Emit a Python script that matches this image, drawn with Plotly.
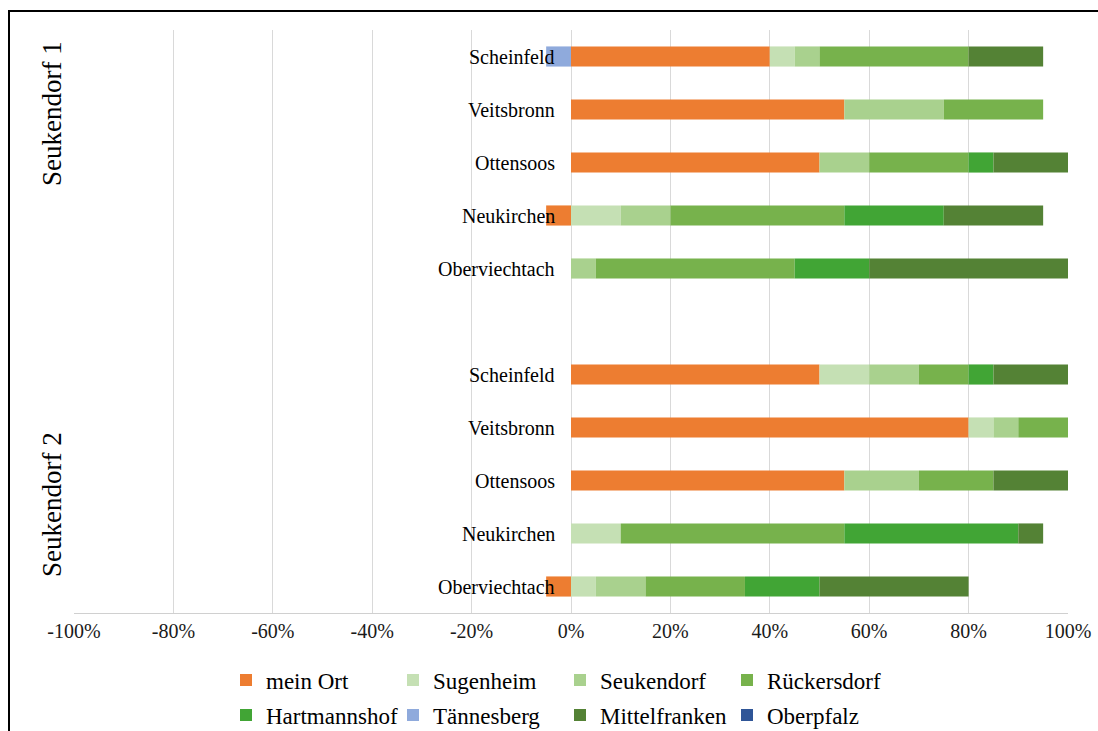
import plotly.graph_objects as go

# ---- data ----
groups = ["Seukendorf 1", "Seukendorf 2"]
places = ["Scheinfeld", "Veitsbronn", "Ottensoos", "Neukirchen", "Oberviechtach"]
series_names = ["mein Ort", "Sugenheim", "Seukendorf", "Rückersdorf",
                "Hartmannshof", "Tännesberg", "Mittelfranken", "Oberpfalz"]
colors = ["#ED7D31", "#C5E0B4", "#A9D18E", "#77B24C",
          "#41A535", "#8FAADC", "#548235", "#2F5597"]

# values in percent, order: Seukendorf 1 (5 places), Seukendorf 2 (5 places)
mein_ort      = [40, 55, 50, -5, 0,   50, 80, 55, 0, -5]
sugenheim     = [5, 0, 0, 10, 0,      10, 5, 0, 10, 5]
seukendorf    = [5, 20, 10, 10, 5,    10, 5, 15, 0, 10]
rueckersdorf  = [30, 20, 20, 35, 40,  10, 10, 15, 45, 20]
hartmannshof  = [0, 0, 5, 20, 15,     5, 0, 0, 35, 15]
taennesberg   = [-5, 0, 0, 0, 0,      0, 0, 0, 0, 0]
mittelfranken = [15, 0, 15, 20, 40,   15, 0, 15, 5, 30]
oberpfalz     = [0, 0, 0, 0, 0,       0, 0, 0, 0, 0]

series_values = [mein_ort, sugenheim, seukendorf, rueckersdorf,
                 hartmannshof, taennesberg, mittelfranken, oberpfalz]

tick_vals = [-100, -80, -60, -40, -20, 0, 20, 40, 60, 80, 100]
tick_text = ["-100%", "-80%", "-60%", "-40%", "-20%", "0%", "20%", "40%", "60%", "80%", "100%"]

# row positions: group 1 rows 0..4, empty row 5, group 2 rows 6..10
rows = []
for gi, g in enumerate(groups):
    for pi, p in enumerate(places):
        rows.append(gi * (len(places) + 1) + pi)

fig = go.Figure()
for i, (name, vals, col) in enumerate(zip(series_names, series_values, colors)):
    fig.add_trace(go.Bar(
        x=vals, y=rows, orientation="h", name=name,
        marker=dict(color=col, line=dict(width=0)),
        width=0.38,
        legend="legend" if i < 4 else "legend2",
        hoverinfo="skip",
    ))

# category labels next to the zero line
for r, p in zip(rows, places * len(groups)):
    fig.add_annotation(x=0, y=r, xref="x", yref="y", text=p, showarrow=False,
                       xanchor="right", yanchor="middle", xshift=-14,
                       font=dict(family="Liberation Serif", size=20, color="#000000"))

# group labels (vertical)
for g, ypix in zip(groups, [114, 505]):
    fig.add_annotation(x=(52 - 74) / 994, y=(613 - ypix) / 583, xref="paper", yref="paper",
                       text=g, showarrow=False, textangle=-90,
                       xanchor="center", yanchor="middle",
                       font=dict(family="Liberation Serif", size=27, color="#000000"))

# outer frame
fig.add_shape(type="rect", xref="paper", yref="paper",
              x0=(9 - 74) / 994, x1=(1110 - 74) / 994,
              y0=(613 - 11) / 583, y1=(613 - 760) / 583,
              line=dict(color="#000000", width=2), layer="below")

legend_common = dict(orientation="h", xref="container", yref="container",
                     xanchor="left", yanchor="middle",
                     entrywidth=122, entrywidthmode="pixels",
                     font=dict(family="Liberation Serif", size=23, color="#000000"),
                     bgcolor="rgba(0,0,0,0)", traceorder="normal")

fig.update_layout(
    width=1098, height=731,
    margin=dict(l=74, r=30, t=30, b=118, autoexpand=False),
    paper_bgcolor="white", plot_bgcolor="white",
    barmode="relative",
    showlegend=True,
    xaxis=dict(range=[-100, 100], tickvals=tick_vals, ticktext=tick_text,
               showgrid=True, gridcolor="#D9D9D9", gridwidth=1,
               zeroline=False, showline=True, linecolor="#D0D0D0", linewidth=1,
               ticks="", tickfont=dict(family="Liberation Serif", size=20, color="#1a1a1a"),
               automargin=False, fixedrange=True),
    yaxis=dict(range=[10.5, -0.5], showticklabels=False, showgrid=False,
               zeroline=False, showline=False, ticks="", automargin=False,
               fixedrange=True),
    legend=dict(legend_common, x=226 / 1098, y=1 - 680 / 731),
    legend2=dict(legend_common, x=226 / 1098, y=1 - 715 / 731),
)

fig.write_html("out.html")
